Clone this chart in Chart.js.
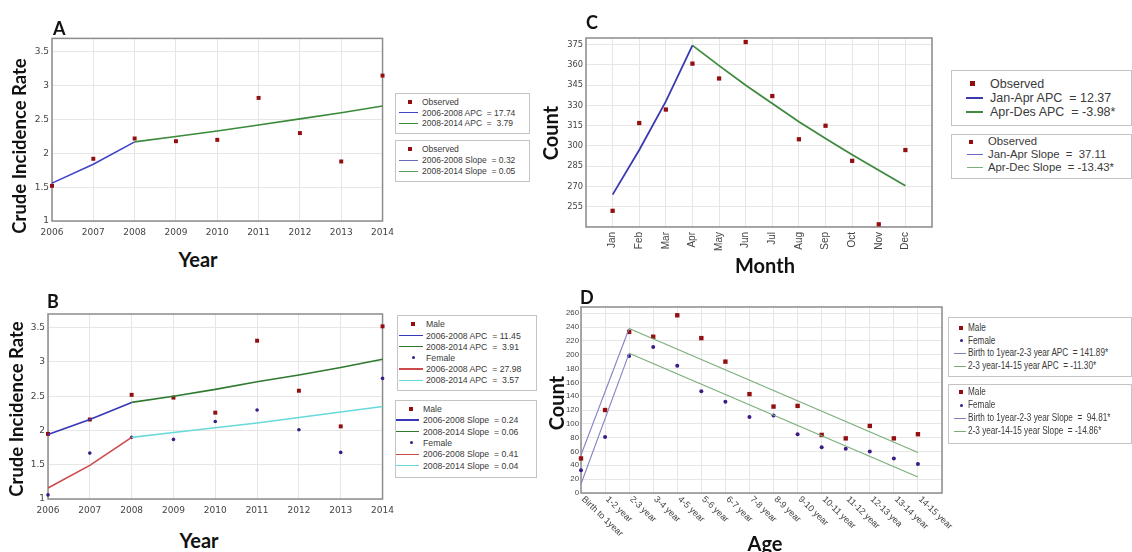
<!DOCTYPE html>
<html>
<head>
<meta charset="utf-8">
<script src="https://cdn.jsdelivr.net/npm/chart.js@4.4.0/dist/chart.umd.min.js"></script>
<style>
body { margin: 0; background: #fff; width: 1132px; height: 552px; position: relative; overflow: hidden; font-family: 'Liberation Sans', Arial, sans-serif; }
canvas { position: absolute; }
.t { position: absolute; font-family: Lato, 'Open Sans', sans-serif; font-weight: bold; color: #111; white-space: nowrap; line-height: 1; }
.rot { transform: translate(-50%, -50%) rotate(-90deg); }
.ctr { transform: translate(-50%, -50%); }
.lg { position: absolute; border: 1px solid #c4c4c4; background: #fff; overflow: hidden; }
.row { position: absolute; white-space: pre; color: #3a3a3a; line-height: 1; transform-origin: 0 50%; }
</style>
</head>
<body>
<canvas id="chartA" width="400" height="216" style="left:0;top:30px"></canvas>
<canvas id="chartB" width="400" height="220" style="left:0;top:305px"></canvas>
<canvas id="chartC" width="389" height="225" style="left:560px;top:30px"></canvas>
<canvas id="chartD" width="395" height="245" style="left:560px;top:300px"></canvas>

<div class="t" style="left:53px;top:19px;font-size:18px">A</div>
<div class="t" style="left:47px;top:292px;font-size:18px">B</div>
<div class="t" style="left:586px;top:13px;font-size:18px">C</div>
<div class="t" style="left:580px;top:288px;font-size:18px">D</div>

<div class="t rot" style="left:19px;top:146px;font-size:18.5px">Crude Incidence Rate</div>
<div class="t ctr" style="left:198px;top:259px;font-size:20px">Year</div>
<div class="t rot" style="left:16px;top:409px;font-size:18.5px">Crude Incidence Rate</div>
<div class="t ctr" style="left:199px;top:540px;font-size:20px">Year</div>
<div class="t rot" style="left:550px;top:133px;font-size:20px">Count</div>
<div class="t ctr" style="left:765px;top:265px;font-size:20px">Month</div>
<div class="t rot" style="left:556px;top:403px;font-size:20px">Count</div>
<div class="t ctr" style="left:765px;top:543px;font-size:20px">Age</div>

<script>
// ---- Panel A: crude incidence rate by year
const years = ['2006', '2007', '2008', '2009', '2010', '2011', '2012', '2013', '2014'];
const observedA = [1.52, 1.92, 2.22, 2.18, 2.20, 2.82, 2.30, 1.88, 3.15];
const fitA1 = [1.56, 1.84, 2.17, null, null, null, null, null, null];
const fitA2 = [null, null, 2.17, 2.25, 2.33, 2.42, 2.51, 2.60, 2.70];

// ---- Panel B: by sex
const maleB = [1.95, 2.16, 2.52, 2.48, 2.26, 3.31, 2.58, 2.06, 3.52];
const femaleB = [1.06, 1.67, 1.90, 1.87, 2.13, 2.30, 2.01, 1.68, 2.76];
const maleFitB1 = [1.94, 2.16, 2.41, null, null, null, null, null, null];
const maleFitB2 = [null, null, 2.41, 2.50, 2.60, 2.71, 2.81, 2.92, 3.04];
const femaleFitB1 = [1.16, 1.49, 1.90, null, null, null, null, null, null];
const femaleFitB2 = [null, null, 1.90, 1.97, 2.04, 2.11, 2.19, 2.27, 2.35];

// ---- Panel C: count by month
const months = ['Jan', 'Feb', 'Mar', 'Apr', 'May', 'Jun', 'Jul', 'Aug', 'Sep', 'Oct', 'Nov', 'Dec'];
const observedC = [252, 317, 327, 361, 350, 377, 337, 305, 315, 289, 242, 297];
const fitC1 = [264, 297, 333, 374.5];                                   // Jan-Apr
const fitC2 = [374.5, 359.5, 345, 331.5, 318, 305.5, 293.5, 282, 270.5]; // Apr-Dec

// ---- Panel D: count by age group
const ages = ['Birth to 1year', '1-2 year', '2-3 year', '3-4 year', '4-5 year', '5-6 year', '6-7 year',
  '7-8 year', '8-9 year', '9-10 year', '10-11 year', '11-12 year', '12-13 yea', '13-14 year', '14-15 year'];
const maleD = [50, 120, 233, 226, 257, 224, 190, 143, 125, 126, 84, 79, 97, 79, 85];
const femaleD = [33, 81, 198, 211, 184, 147, 132, 110, 112, 85, 66, 64, 60, 50, 42];
const joinpointsD = [0, 2, 14];
const maleFitD = [55, 238, 58.5];
const femaleFitD = [13, 202, 23];

const RED = '#930f0f', PURPLE = '#3b1b86';
const tickFont = { family: 'DejaVu Sans', size: 9 };

// frame round the plot area
const framePlugin = {
    id: 'frame',
    beforeDatasetsDraw(chart) {
        const { ctx, chartArea: a } = chart;
        ctx.save();
        ctx.strokeStyle = '#8c8c8c';
        ctx.lineWidth = 1.5;
        ctx.strokeRect(a.left, a.top, a.right - a.left, a.bottom - a.top);
        ctx.restore();
    }
};

// slanted age labels (clockwise, starting at the tick)
const ageLabelsPlugin = {
    id: 'ageLabels',
    afterDraw(chart) {
        const { ctx, scales: { x }, chartArea } = chart;
        ctx.save();
        ctx.font = '9px "Liberation Sans"';
        ctx.fillStyle = '#444';
        ctx.textAlign = 'left';
        ctx.textBaseline = 'middle';
        ages.forEach((lab, i) => {
            ctx.save();
            ctx.translate(x.getPixelForValue(i) + 2, chartArea.bottom + 5);
            ctx.rotate(Math.PI / 4.1);
            ctx.fillText(lab, 0, 0);
            ctx.restore();
        });
        ctx.restore();
    }
};

function scatter(data, color, style, r) {
    return { data, showLine: false, pointStyle: style, pointRadius: r, pointBackgroundColor: color,
             pointBorderWidth: 0, borderColor: color, clip: false };
}
function fit(data, color, w) {
    return { data, borderColor: color, borderWidth: w, pointRadius: 0, tension: 0, fill: false, spanGaps: false, clip: false };
}
function xy(values, xs) {
    return values.map((v, i) => ({ x: xs ? xs[i] : i, y: v }));
}

function options(cfg) {
    return {
        responsive: false,
        animation: false,
        devicePixelRatio: 1,
        layout: { autoPadding: false, padding: cfg.pad },
        plugins: { legend: { display: false }, tooltip: { enabled: false } },
        scales: {
            x: Object.assign({
                grid: { color: '#e6e6e6', drawTicks: false },
                border: { display: false },
                afterFit: s => { s.height = cfg.xh; }
            }, cfg.x),
            y: Object.assign({
                grid: { color: '#e6e6e6', drawTicks: false },
                border: { display: false },
                afterFit: s => { s.width = cfg.yw; }
            }, cfg.y)
        }
    };
}

const rateY = {
    min: 1, max: 3.7,
    ticks: { stepSize: 0.5, includeBounds: false, padding: 3, color: '#444', font: tickFont,
             callback: v => String(v) }
};
const yearX = {
    type: 'category',
    offset: false,
    ticks: { padding: 6, color: '#444', font: tickFont, maxRotation: 0, autoSkip: false }
};

new Chart(document.getElementById('chartA'), {
    type: 'line',
    data: {
        labels: years,
        datasets: [
            fit(fitA1, '#4242c8', 1.6),
            fit(fitA2, '#3a8a3a', 1.6),
            scatter(observedA, RED, 'rect', 2.8)
        ]
    },
    options: options({ pad: { top: 7, right: 13, left: 0, bottom: 0 }, xh: 25, yw: 52, x: yearX, y: rateY }),
    plugins: [framePlugin]
});

new Chart(document.getElementById('chartB'), {
    type: 'line',
    data: {
        labels: years,
        datasets: [
            fit(maleFitB1, '#3636b8', 1.6),
            fit(maleFitB2, '#2f7a2f', 1.6),
            fit(femaleFitB1, '#cc4a4a', 1.6),
            fit(femaleFitB2, '#6ad9d9', 1.6),
            scatter(maleB, RED, 'rect', 2.8),
            scatter(femaleB, PURPLE, 'circle', 1.8)
        ]
    },
    options: options({ pad: { top: 9, right: 15, left: 0, bottom: 0 }, xh: 26, yw: 48, x: yearX, y: rateY }),
    plugins: [framePlugin]
});

new Chart(document.getElementById('chartC'), {
    type: 'line',
    data: {
        datasets: [
            fit(xy(fitC1), '#3a3ab0', 1.8),
            fit(xy(fitC2, [3, 4, 5, 6, 7, 8, 9, 10, 11]), '#3f8a3f', 1.8),
            scatter(xy(observedC), RED, 'rect', 3)
        ]
    },
    options: options({
        pad: { top: 6, right: 6, left: 0, bottom: 0 }, xh: 28, yw: 26,
        x: {
            type: 'linear', min: -1, max: 12,
            ticks: { stepSize: 1, autoSkip: false, minRotation: 90, maxRotation: 90, padding: 5,
                     color: '#444', font: { family: 'Liberation Sans', size: 10 },
                     callback: v => months[v] || '' }
        },
        y: {
            min: 240, max: 380,
            ticks: { stepSize: 15, includeBounds: false, padding: 3, color: '#444',
                     font: { family: 'DejaVu Sans', size: 8.3 },
                     callback: v => (v === 240 ? '' : String(v)) }
        }
    }),
    plugins: [framePlugin]
});

new Chart(document.getElementById('chartD'), {
    type: 'line',
    data: {
        datasets: [
            fit(xy(maleFitD.slice(0, 2), joinpointsD.slice(0, 2)), '#8383c4', 1.1),
            fit(xy(maleFitD.slice(1), joinpointsD.slice(1)), '#78ae78', 1.1),
            fit(xy(femaleFitD.slice(0, 2), joinpointsD.slice(0, 2)), '#8383c4', 1.1),
            fit(xy(femaleFitD.slice(1), joinpointsD.slice(1)), '#78ae78', 1.1),
            scatter(xy(maleD), RED, 'rect', 3.1),
            scatter(xy(femaleD), PURPLE, 'circle', 2)
        ]
    },
    options: options({
        pad: { top: 7, right: 13, left: 0, bottom: 0 }, xh: 52, yw: 21,
        x: { type: 'linear', min: 0, max: 15, ticks: { stepSize: 1, display: false } },
        y: {
            min: 0, max: 269,
            ticks: { stepSize: 20, includeBounds: false, padding: 2, color: '#444',
                     font: { family: 'Liberation Sans', size: 7.8 } }
        }
    }),
    plugins: [framePlugin, ageLabelsPlugin]
});

// ---- legends (html boxes)
function legendBox(b, rows) {
    const box = document.createElement('div');
    box.className = 'lg';
    Object.assign(box.style, { left: b.x + 'px', top: b.y + 'px', width: b.w + 'px', height: b.h + 'px' });
    rows.forEach((r, i) => {
        const cy = b.first + i * b.step;
        const m = document.createElement('div');
        m.style.position = 'absolute';
        if (r[0] === 'line') {
            Object.assign(m.style, { left: b.sx + 'px', width: b.sw + 'px', top: (cy - b.lw / 2) + 'px',
                                     height: b.lw + 'px', background: r[1] });
        } else {
            const s = r[0] === 'dot' ? b.ms - 1 : b.ms;
            Object.assign(m.style, { left: (b.mx - s / 2) + 'px', top: (cy - s / 2) + 'px', width: s + 'px',
                                     height: s + 'px', background: r[1],
                                     borderRadius: r[0] === 'dot' ? '50%' : '0' });
        }
        box.appendChild(m);
        const t = document.createElement('div');
        t.className = 'row';
        t.textContent = r[2];
        Object.assign(t.style, { left: b.tx + 'px', top: cy + 'px', fontSize: b.fs + 'px',
                                 transform: 'translateY(-50%) scaleX(' + (b.sq || 1) + ')' });
        box.appendChild(t);
    });
    document.body.appendChild(box);
}

legendBox({ x: 395, y: 93, w: 133, h: 39, first: 8, step: 10.7, sx: 3, sw: 19, tx: 26, mx: 14, ms: 4, lw: 1.3, fs: 8.5 }, [
    ['rect', RED, 'Observed'],
    ['line', '#4242c8', '2006-2008 APC  = 17.74'],
    ['line', '#3a8a3a', '2008-2014 APC  =  3.79']
]);
legendBox({ x: 395, y: 140, w: 133, h: 40, first: 8, step: 11, sx: 3, sw: 19, tx: 26, mx: 14, ms: 4, lw: 1, fs: 8.5 }, [
    ['rect', RED, 'Observed'],
    ['line', '#6a6ab8', '2006-2008 Slope  = 0.32'],
    ['line', '#5a9a5a', '2008-2014 Slope  = 0.05']
]);
legendBox({ x: 397, y: 315, w: 138, h: 74, first: 8.3, step: 11.2, sx: 1, sw: 24, tx: 28, mx: 15, ms: 4, lw: 1.3, fs: 8.7 }, [
    ['rect', RED, 'Male'],
    ['line', '#3636b8', '2006-2008 APC  = 11.45'],
    ['line', '#2f7a2f', '2008-2014 APC  =  3.91'],
    ['dot', PURPLE, 'Female'],
    ['line', '#cc4a4a', '2006-2008 APC  = 27.98'],
    ['line', '#6ad9d9', '2008-2014 APC  =  3.57']
]);
legendBox({ x: 395, y: 400, w: 140, h: 76, first: 7.7, step: 11.4, sx: 0, sw: 23, tx: 27, mx: 15, ms: 4, lw: 1.3, fs: 8.7 }, [
    ['rect', RED, 'Male'],
    ['line', '#3636b8', '2006-2008 Slope  = 0.24'],
    ['line', '#2f7a2f', '2008-2014 Slope  = 0.06'],
    ['dot', PURPLE, 'Female'],
    ['line', '#cc4a4a', '2006-2008 Slope  = 0.41'],
    ['line', '#6ad9d9', '2008-2014 Slope  = 0.04']
]);
legendBox({ x: 951, y: 70, w: 179, h: 54, first: 12.7, step: 14, sx: 14, sw: 17, tx: 38, mx: 20, ms: 5, lw: 2, fs: 12.5 }, [
    ['rect', RED, 'Observed'],
    ['line', '#3a3ab0', 'Jan-Apr APC  = 12.37'],
    ['line', '#3f8a3f', 'Apr-Des APC  = -3.98*']
]);
legendBox({ x: 951, y: 134, w: 179, h: 43, first: 7, step: 12.8, sx: 15, sw: 16, tx: 36, mx: 19, ms: 4, lw: 1, fs: 11.3 }, [
    ['rect', RED, 'Observed'],
    ['line', '#6a6ac4', 'Jan-Apr Slope  =  37.11'],
    ['line', '#7ab07a', 'Apr-Dec Slope  = -13.43*']
]);
legendBox({ x: 948, y: 317, w: 182, h: 58, first: 9.7, step: 12.8, sx: 5, sw: 12, tx: 19, mx: 12, ms: 4, lw: 1, fs: 10, sq: 0.82 }, [
    ['rect', RED, 'Male'],
    ['dot', PURPLE, 'Female'],
    ['line', '#8383c4', 'Birth to 1year-2-3 year APC  = 141.89*'],
    ['line', '#78ae78', '2-3 year-14-15 year APC  = -11.30*']
]);
legendBox({ x: 948, y: 384, w: 182, h: 58, first: 7, step: 13, sx: 5, sw: 12, tx: 19, mx: 12, ms: 4, lw: 1, fs: 10, sq: 0.82 }, [
    ['rect', RED, 'Male'],
    ['dot', PURPLE, 'Female'],
    ['line', '#8383c4', 'Birth to 1year-2-3 year Slope  =  94.81*'],
    ['line', '#78ae78', '2-3 year-14-15 year Slope  = -14.86*']
]);
</script>
</body>
</html>
